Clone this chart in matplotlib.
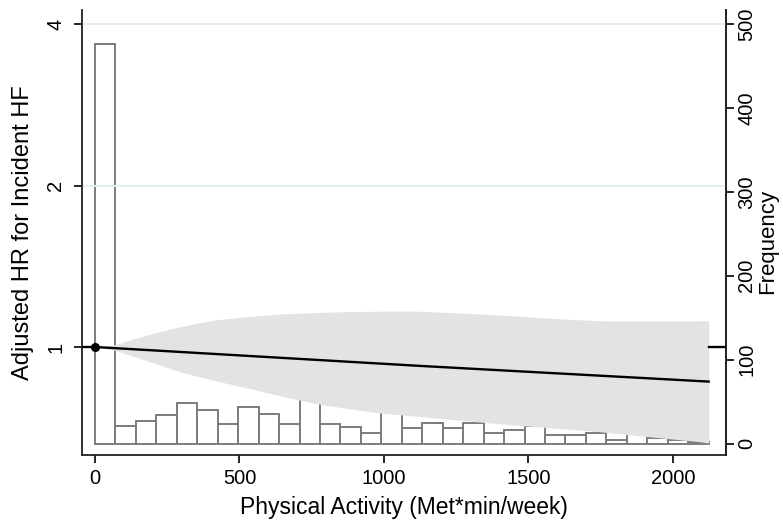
import matplotlib
matplotlib.use("Agg")
import matplotlib.pyplot as plt
import numpy as np

plt.rcParams['font.family'] = ['Liberation Sans', 'DejaVu Sans']

# ---- data ----
bin_width = 70.8
freq_counts = [476, 21, 27, 34, 48, 40, 23, 43, 35, 23,
               55, 23, 20, 13, 40, 19, 24, 18, 25, 13,
               16, 21, 10, 10, 12, 4, 11, 6, 4, 2]

ci_x = [0, 66, 180, 294, 412, 526, 640, 755, 872, 987, 1101, 1229,
        1402, 1575, 1748, 1921, 2094, 2124]
ci_upper = [1.0, 1.009, 1.053, 1.091, 1.123, 1.139, 1.152, 1.159, 1.164,
            1.166, 1.167, 1.159, 1.147, 1.131, 1.119, 1.118, 1.119, 1.119]
ci_lower = [1.0, 0.987, 0.942, 0.899, 0.866, 0.839, 0.811, 0.786, 0.768,
            0.753, 0.744, 0.733, 0.719, 0.707, 0.695, 0.680, 0.666, 0.662]

line_x = [0, 1125, 2124]
line_hr = [1.0, 0.922, 0.862]

ref_x = [0]
ref_hr = [1.0]

x_ticks = [0, 500, 1000, 1500, 2000]
hr_ticks = [1, 2, 4]
freq_ticks = [0, 100, 200, 300, 400, 500]

xlim = (-45, 2184)
hr_lim = (0.629, 4.248)
freq_lim = (-13.7, 516.7)

# ---- figure ----
fig = plt.figure(figsize=(7.83, 5.25), dpi=100)
ax = fig.add_axes([82/783, 1 - 455/525, (726-82)/783, (455-10)/525])
ax2 = ax.twinx()

# histogram (frequency, right axis) on the bottom axes
edges = np.arange(len(freq_counts)) * bin_width
ax.bar(edges, freq_counts, width=bin_width, align='edge', color='white',
       edgecolor='#7c7c7c', linewidth=1.4, zorder=2)
ax.set_xlim(*xlim)
ax.set_ylim(*freq_lim)
ax.yaxis.tick_right()
ax.yaxis.set_label_position('right')
ax.set_yticks(freq_ticks)
ax.set_yticklabels([str(t) for t in freq_ticks], rotation=90, va='center')
ax.set_ylabel('Frequency', fontsize=16)
ax.yaxis.set_label_coords(1.049, 0.48)
ax.set_xticks(x_ticks)
ax.set_xticklabels([str(t) for t in x_ticks])
ax.set_xlabel('Physical Activity (Met*min/week)', fontsize=16.5)
ax.xaxis.set_label_coords(0.5, -0.092)
ax.tick_params(axis='x', length=6, width=1.2, labelsize=14.5, pad=4)
ax.tick_params(axis='y', length=6, width=1.2, labelsize=14.5, pad=2)

# HR axis (left, log) on top
ax2.set_yscale('log')
ax2.set_ylim(*hr_lim)
ax2.set_xlim(*xlim)
ax2.yaxis.tick_left()
ax2.yaxis.set_label_position('left')
ax2.set_yticks(hr_ticks)
ax2.set_yticklabels([str(t) for t in hr_ticks], rotation=90, va='center')
ax2.yaxis.set_minor_locator(matplotlib.ticker.NullLocator())
ax2.set_ylabel('Adjusted HR for Incident HF', fontsize=17)
ax2.yaxis.set_label_coords(-0.074, 0.5)
ax2.tick_params(axis='y', length=6, width=1.2, labelsize=14.5, pad=6)

for h in hr_ticks[1:]:
    ax2.axhline(h, color='#e4eff0', linewidth=1.4, zorder=0)

# reference segments at HR = 1 visible outside the CI band
ax2.plot([xlim[0], ci_x[0]], [1, 1], color='black', linewidth=1.7, zorder=3)
ax2.plot([ci_x[-1], xlim[1]], [1, 1], color='black', linewidth=1.7, zorder=3)

ax2.fill_between(ci_x, ci_lower, ci_upper, color='#e3e3e3', linewidth=0, zorder=2)
ax2.plot(line_x, line_hr, color='black', linewidth=1.7, zorder=4)
ax2.plot(ref_x, ref_hr, 'o', color='black', markersize=5.5, zorder=5)

for a in (ax, ax2):
    a.spines['top'].set_visible(False)
    for s in ('left', 'right', 'bottom'):
        a.spines[s].set_linewidth(1.3)
        a.spines[s].set_color('#222222')
ax.spines['left'].set_visible(False)
ax2.spines['bottom'].set_visible(False)

fig.savefig('out.png', dpi=100)
